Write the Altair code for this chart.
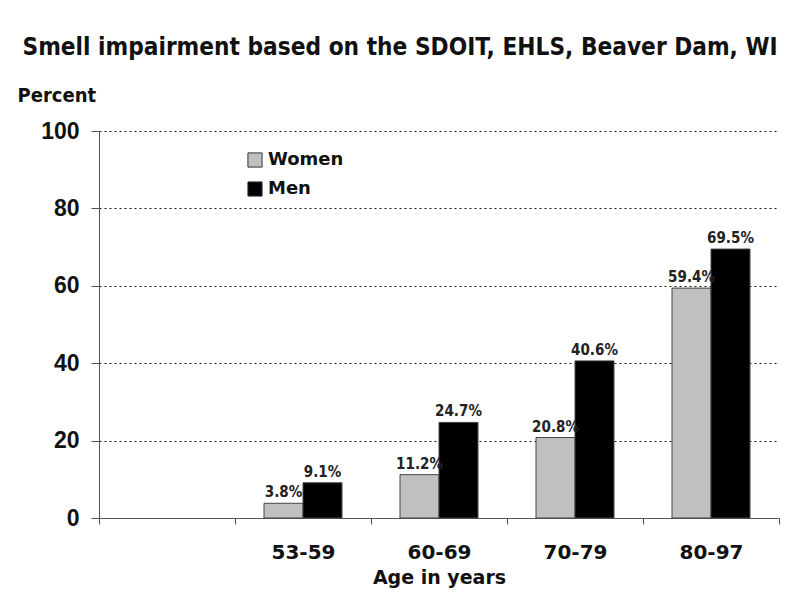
import altair as alt
import pandas as pd

ages = ["", "53-59", "60-69", "70-79", "80-97"]
groups = ["Women", "Men"]
women = [3.8, 11.2, 20.8, 59.4]
men = [9.1, 24.7, 40.6, 69.5]
colors = ["#c0c0c0", "#000000"]

rows = []
for a, w, m in zip(ages[1:], women, men):
    rows.append({"age": a, "sex": "Women", "pct": w, "label": f"{w}%"})
    rows.append({"age": a, "sex": "Men", "pct": m, "label": f"{m}%"})
df = pd.DataFrame(rows)

COND = "DejaVu Sans Condensed"

xscale = alt.Scale(domain=ages, paddingInner=0, paddingOuter=0)
offscale = alt.Scale(domain=groups, paddingInner=0, paddingOuter=0.744)

base = alt.Chart(df)

bars = base.mark_bar(strokeWidth=1).encode(
    x=alt.X("age:N", scale=xscale, sort=ages,
            axis=alt.Axis(title="Age in years", labelAngle=0, tickBand="extent",
                          tickSize=6, labelPadding=18, titlePadding=6,
                          labelFont="DejaVu Sans", labelFontSize=20, labelFontWeight="bold",
                          labelColor="#111", titleFont="DejaVu Sans", titleFontSize=19,
                          titleFontWeight="bold", titleColor="#111",
                          domainColor="#555", tickColor="#555", grid=False)),
    xOffset=alt.XOffset("sex:N", scale=offscale, sort=groups),
    y=alt.Y("pct:Q", scale=alt.Scale(domain=[0, 100]),
            axis=alt.Axis(values=[0, 20, 40, 60, 80, 100], title="Percent",
                          titleAngle=0, titleAlign="left", titleBaseline="top",
                          titleX=-82, titleY=-46, titleFont=COND,
                          titleFontSize=20, titleFontWeight="bold", titleColor="#111",
                          labelFont="Liberation Sans", labelFontSize=23, labelFontWeight="bold",
                          labelColor="#111", labelPadding=12, tickSize=8,
                          domainColor="#555", tickColor="#555",
                          grid=True, gridColor="#000", gridDash=[2, 3], gridWidth=1,
                          gridOpacity=0.9)),
    color=alt.Color("sex:N", scale=alt.Scale(domain=groups, range=colors),
                    legend=alt.Legend(title=None, orient="none", legendX=147, legendY=20,
                                      symbolType="square", symbolSize=200,
                                      symbolStrokeColor="#333", symbolStrokeWidth=1,
                                      labelFont="DejaVu Sans", labelFontSize=18,
                                      labelFontWeight="bold", labelColor="#111",
                                      rowPadding=9, padding=0)),
    stroke=alt.value("#444"),
)

labels = base.mark_text(baseline="bottom", dy=-3, font=COND,
                        fontSize=15, fontWeight="bold", color="#222").encode(
    x=alt.X("age:N", scale=xscale, sort=ages),
    xOffset=alt.XOffset("sex:N", scale=offscale, sort=groups),
    y=alt.Y("pct:Q"),
    text="label:N",
)

chart = (bars + labels).properties(
    width=680, height=387,
    title=alt.TitleParams("Smell impairment based on the SDOIT, EHLS, Beaver Dam, WI",
                          font=COND, fontSize=24.2, fontWeight="bold",
                          color="#111", anchor="middle", dx=-39, offset=25),
    autosize=alt.AutoSizeParams(type="none"),
    padding={"left": 91, "top": 123, "right": 13, "bottom": 70},
).configure_view(stroke=None)

chart.save("out.html", embed_options={"renderer": "svg", "actions": False})
